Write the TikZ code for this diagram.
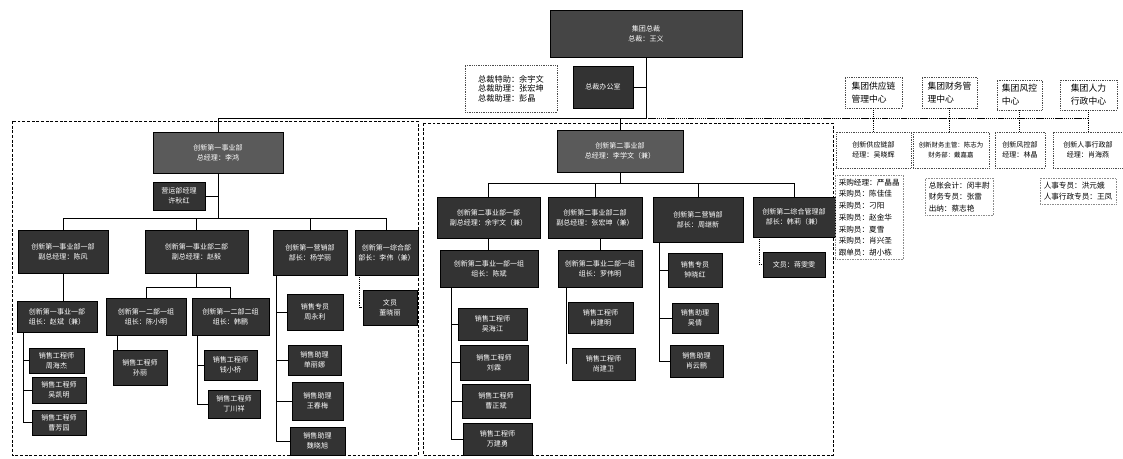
\documentclass[tikz,border=0pt]{standalone}
\usepackage{fontspec}
\setmainfont{Noto Sans CJK SC}
\usetikzlibrary{calc}
\definecolor{boxdark}{HTML}{333333}
\definecolor{boxmid} {HTML}{5A5A5A}
\definecolor{boxtop} {HTML}{454545}
\tikzset{
  sz/.style 2 args={minimum width=#1*0.03cm, minimum height=#2*0.03cm},
  darkbox/.style ={draw=black, fill=boxdark, text=white, line width=0.5pt,
                   inner sep=1pt, align=center, font=\fontsize{6}{8.5}\selectfont},
  divbox/.style  ={darkbox, fill=boxmid},
  notebox/.style ={draw=black!70, densely dotted, line width=0.5pt,
                   inner sep=2pt, align=center, font=\fontsize{6}{8.5}\selectfont},
  centbox/.style ={notebox, align=left, font=\fontsize{7.5}{11}\selectfont},
  listbox/.style ={draw=black!45, densely dotted, line width=0.4pt, anchor=north west,
                   inner sep=3pt, align=left, font=\fontsize{6.5}{10}\selectfont},
  orgline/.style ={line width=0.7pt},
  dotline/.style ={line width=0.6pt, densely dotted},
  hatchline/.style={line width=1pt, dash pattern=on 1.2pt off 0.6pt},
  grpframe/.style={line width=0.6pt, dash pattern=on 2.5pt off 1.5pt},
}
\begin{document}
\begin{tikzpicture}[x=0.03cm,y=-0.03cm]
  \useasboundingbox (0,0) rectangle (1123,459);
  % two business groups
  \draw[grpframe] (12,121) rectangle (418,455);
  \draw[grpframe] (423,123) rectangle (833,455);

  % head office
  \node[darkbox,fill=boxtop,sz={192}{47}] (ceo) at (646,33.5) {集团总裁\\总裁：王义};
  \node[darkbox,sz={60}{42}] (office) at (603,87) {总裁办公室};
  \node[notebox,align=left,sz={92}{47},font=\fontsize{7}{8}\selectfont] (assist) at (511,88.5)
    {总裁特助：余宇文\\总裁助理：张宏坤\\总裁助理：彭晶};
  \draw[orgline] (ceo.south) -- ++(0,61) coordinate (hub);
  \draw[orgline] (office.east) -- (office.east -| hub);

  % first business group
  \node[divbox,sz={130}{41}] (div1) at (218,152.5) {创新第一事业部\\总经理：李鸿};
  \node[darkbox,sz={52}{28}] (ops1) at (179,196) {营运部经理\\许秋红};
  \draw[orgline] (div1.north) |- (hub);
  \draw[orgline] (div1.south) -- ++(0,45) coordinate (bus1);
  \draw[orgline] (ops1.east) -- (ops1.east -| bus1);

  \node[darkbox,sz={90}{43}]  (sec1a) at (63,251.5)   {创新第一事业部一部\\副总经理：陈风};
  \node[darkbox,sz={103}{43}] (sec1b) at (196.5,251.5) {创新第一事业部二部\\副总经理：赵毅};
  \node[darkbox,sz={74}{45}]  (sec1c) at (310,252.5)  {创新第一营销部\\部长：杨学丽};
  \node[darkbox,sz={63}{45}]  (sec1d) at (386.5,252.5) {创新第一综合部\\部长：李伟（兼）};
  \draw[orgline] (sec1a.north) |- (bus1) -| (sec1d.north);
  \foreach \n in {sec1b,sec1c}
    \draw[orgline] (\n.north) -- (\n.north |- bus1);

  \node[darkbox,sz={80}{31}] (grp1a) at (57,316.5)  {创新第一事业一部\\组长：赵斌（兼）};
  \node[darkbox,sz={55}{25}] (eng1)  at (56.5,360.5) {销售工程师\\周海杰};
  \node[darkbox,sz={54}{26}] (eng2)  at (59,390)    {销售工程师\\吴凯明};
  \node[darkbox,sz={54}{25}] (eng3)  at (59,422.5)  {销售工程师\\曹芳园};
  \draw[orgline] (sec1a.south) -- (sec1a.south |- grp1a.north);
  \coordinate (sp1) at ($(grp1a.south west)+(7,0)$);
  \draw[orgline] (sp1) |- (eng3.west);
  \foreach \n in {eng1,eng2}
    \draw[orgline] (\n.west) -- (\n.west -| sp1);

  \node[darkbox,sz={80}{37}] (grp1b) at (146,316.5)  {创新第一二部一组\\组长：陈小明};
  \node[darkbox,sz={77}{37}] (grp1c) at (230.5,316.5) {创新第一二部二组\\组长：韩鹏};
  \node[darkbox,sz={54}{35}] (eng4)  at (140,367.5)  {销售工程师\\孙丽};
  \node[darkbox,sz={53}{30}] (eng5)  at (230.5,365)  {销售工程师\\钱小桥};
  \node[darkbox,sz={52}{28}] (eng6)  at (234,404)    {销售工程师\\丁川祥};
  \draw[orgline] (sec1b.south) -- ++(0,14) coordinate (bus2);
  \draw[orgline] (grp1b.north) |- (bus2) -| (grp1c.north);
  \coordinate (sp2) at ($(eng4.north west)+(5,0)$);
  \draw[orgline] (sp2) -- (sp2 |- grp1b.south);
  \coordinate (sp3) at ($(grp1c.south west)+(6,0)$);
  \draw[orgline] (sp3) |- (eng6.west);
  \draw[orgline] (eng5.west) -- (eng5.west -| sp3);

  \node[darkbox,sz={56}{36}] (sal1) at (315,312)   {销售专员\\周永利};
  \node[darkbox,sz={53}{30}] (sal2) at (314.5,360) {销售助理\\单丽娜};
  \node[darkbox,sz={51}{38}] (sal3) at (317.5,401) {销售助理\\王春梅};
  \node[darkbox,sz={55}{28}] (sal4) at (317.5,441) {销售助理\\魏晓旭};
  \coordinate (sp4) at ($(sec1c.south west)+(4,0)$);
  \draw[orgline] (sp4) |- (sal4.west);
  \foreach \n in {sal1,sal2,sal3}
    \draw[orgline] (\n.west) -- (\n.west -| sp4);

  \node[darkbox,sz={54}{35}] (clk1) at (390,307.5) {文员\\董晓丽};
  \coordinate (sp5) at ($(sec1d.south west)+(5,0)$);
  \draw[dotline] (sp5) |- (clk1.west);

  % second business group
  \node[divbox,sz={126}{42}] (div2) at (620,151) {创新第二事业部\\总经理：李学文（兼）};
  \draw[orgline] (div2.north) -- (div2.north |- hub);
  \draw[orgline] (div2.south) -- ++(0,11) coordinate (bus3);

  \node[darkbox,sz={103}{41}] (sec2a) at (488.5,217.5) {创新第二事业部一部\\副总经理：余宇文（兼）};
  \node[darkbox,sz={94}{41}]  (sec2b) at (595,217.5)   {创新第二事业部二部\\副总经理：张宏坤（兼）};
  \node[darkbox,sz={90}{45}]  (sec2c) at (698,219.5)   {创新第二营销部\\部长：周继新};
  \node[darkbox,sz={82}{40}]  (sec2d) at (794,217)     {创新第二综合管理部\\部长：韩莉（兼）};
  \draw[orgline] (sec2a.north) |- (bus3) -| (sec2d.north);
  \foreach \n in {sec2b,sec2c}
    \draw[orgline] (\n.north) -- (\n.north |- bus3);

  \node[darkbox,sz={98}{37}] (grp2a) at (489,268.5) {创新第二事业一部一组\\组长：陈斌};
  \node[darkbox,sz={84}{37}] (grp2b) at (600,268.5) {创新第二事业二部一组\\组长：罗伟明};
  \node[darkbox,sz={54}{34}] (sal5)  at (695,270)   {销售专员\\钟晓红};
  \node[darkbox,sz={62}{25}] (clk2)  at (794,264.5) {文员：蒋雯雯};
  \draw[orgline] (sec2a.south) -- (sec2a.south |- grp2a.north);
  \draw[orgline] (grp2b.north) -- (grp2b.north |- sec2b.south);

  \node[darkbox,sz={69}{32}] (eng7)  at (492.5,324) {销售工程师\\吴海江};
  \node[darkbox,sz={68}{35}] (eng8)  at (494,362.5) {销售工程师\\刘霖};
  \node[darkbox,sz={68}{34}] (eng9)  at (496,401)   {销售工程师\\曹正斌};
  \node[darkbox,sz={69}{32}] (eng10) at (497.5,439) {销售工程师\\万建勇};
  \coordinate (sp8) at ($(grp2a.south west)+(12,0)$);
  \draw[orgline] (sp8) |- (eng10.west);
  \foreach \n in {eng7,eng8,eng9}
    \draw[orgline] (\n.west) -- (\n.west -| sp8);

  \node[darkbox,sz={65}{31}] (eng11) at (600.5,317.5) {销售工程师\\肖建明};
  \node[darkbox,sz={63}{32}] (eng12) at (603.5,364)   {销售工程师\\尚建卫};
  \coordinate (sp9) at ($(grp2b.south west)+(9,0)$);
  \draw[orgline] (sp9) -- (sp9 |- eng12.west);

  \node[darkbox,sz={46}{30}] (ast1) at (695,318)   {销售助理\\吴倩};
  \node[darkbox,sz={53}{32}] (ast2) at (696.5,361) {销售助理\\肖云鹏};
  \coordinate (sp6) at ($(sec2c.south west)+(7,0)$);
  \draw[orgline] (sp6) |- (ast2.west);
  \foreach \n in {sal5,ast1}
    \draw[orgline] (\n.west) -- (\n.west -| sp6);
  \coordinate (sp7) at ($(sec2d.south west)+(7,0)$);
  \draw[dotline] (sp7) |- (clk2.west);

  % group centres
  \node[centbox,sz={57}{31}] (cen1) at (873.5,92.5) {集团供应链\\管理中心};
  \node[centbox,sz={55}{31}] (cen2) at (949.5,92.5) {集团财务管\\理中心};
  \node[centbox,sz={45}{30}] (cen3) at (1019.5,95)  {集团风控\\中心};
  \node[centbox,sz={57}{30}] (cen4) at (1088.5,95)  {集团人力\\行政中心};
  \node[notebox,sz={75}{36}] (sub1) at (873.5,150) {创新供应链部\\经理：吴晓辉};
  \node[notebox,sz={76}{36},font=\fontsize{5.5}{8.5}\selectfont] (sub2) at (951,150)
    {创新财务主管：陈志为\\财务部：戴嘉嘉};
  \node[notebox,sz={50}{36}] (sub3) at (1020,150)  {创新风控部\\经理：林晶};
  \node[notebox,sz={70}{36}] (sub4) at (1088,150)  {创新人事行政部\\经理：肖海燕};
  \draw[hatchline] (hub) -- (hub -| cen4.south);
  \foreach \n in {1,...,4}
    \draw[dotline] (cen\n.south) -- (cen\n.south |- sub\n.north);

  \node[listbox] (purch) at (835,175)
    {采购经理：严晶晶\\采购员：陈佳佳\\采购员：刁阳\\采购员：赵金华\\采购员：夏雪\\采购员：肖兴圣\\跟单员：胡小栋};
  \node[listbox] (fin) at (925,178) {总账会计：闵丰尉\\财务专员：张雷\\出纳：蔡志艳};
  \node[listbox] (hrs) at (1040,178) {人事专员：洪元娥\\人事行政专员：王凤};
\end{tikzpicture}
\end{document}
